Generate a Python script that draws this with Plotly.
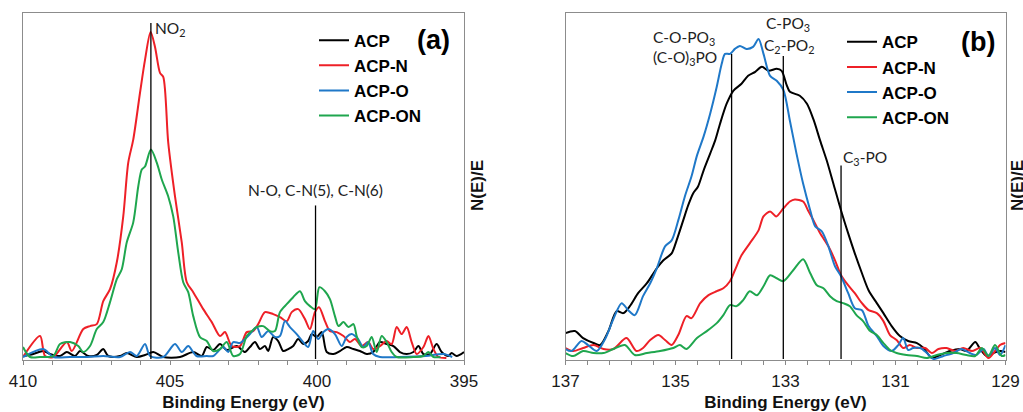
import plotly.graph_objects as go

# ---------------- Panel (a): N 1s region ----------------
a_acp_e = [409.99, 409.65, 409.31, 409.08, 408.74, 408.51, 408.23, 408.06, 407.78, 407.49, 407.27, 407.1,
           406.7, 406.47, 406.13, 405.85, 405.57, 405.23, 404.66, 404.21, 403.92, 403.75, 403.53, 403.3,
           403.07, 402.73, 402.45, 402.28, 402.11, 401.94, 401.77, 401.66, 401.49, 401.32, 401.15, 400.98,
           400.81, 400.64, 400.47, 400.3, 400.18, 400.01, 399.84, 399.67, 399.44, 399.22, 398.99, 398.76,
           398.54, 398.31, 398.09, 397.86, 397.63, 397.4, 397.18, 396.95, 396.72, 396.55, 396.38, 396.16,
           395.93, 395.76, 395.53, 395.42, 395.25, 395.0]
a_acp_v = [3, 5, 8, 5, 3, 7, 3, 8, 3, 4, 10, 3,
           3, 6, 2, 4, 7, 2, 2, 7, 3, 12, 9, 15,
           9, 13, 7, 12, 17, 10, 13, 8, 22, 18, 8, 10,
           13, 20, 15, 18, 25, 22, 27, 7, 5, 8, 12, 10,
           8, 5, 7, 17, 15, 13, 7, 5, 7, 13, 5, 5,
           15, 7, 3, 6, 3, 7]

a_acpn_e = [410.0, 409.42, 409.25, 408.97, 408.51, 408.34, 407.95, 407.72, 407.49, 407.27, 407.04, 406.81,
            406.59, 406.42, 406.25, 406.02, 405.85, 405.66, 405.51, 405.34, 405.23, 405.06, 404.83, 404.6,
            404.43, 404.21, 403.87, 403.58, 403.3, 403.13, 402.9, 402.62, 402.39, 402.17, 402.0, 401.77,
            401.49, 401.26, 401.03, 400.86, 400.64, 400.41, 400.24, 400.07, 399.93, 399.73, 399.56, 399.33,
            399.1, 398.88, 398.71, 398.48, 398.26, 398.09, 397.86, 397.63, 397.46, 397.29, 397.12, 396.95,
            396.78, 396.61, 396.38, 396.21, 396.04, 395.87, 395.6]
a_acpn_v = [2, 23, 3, 2, 17, 8, 30, 33, 35, 58, 70, 97,
            143, 197, 220, 267, 300, 328, 313, 287, 283, 217, 163, 117,
            77, 67, 50, 37, 23, 27, 13, 13, 27, 28, 35, 47,
            45, 42, 38, 47, 50, 40, 30, 47, 52, 38, 28, 27,
            23, 17, 20, 13, 17, 10, 13, 18, 15, 32, 25, 32,
            17, 5, 12, 23, 10, 2, 1]

a_acpo_e = [410.0, 409.31, 408.97, 408.4, 407.8, 407.27, 406.7, 406.36, 406.13, 405.85, 405.68, 405.23,
            404.83, 404.6, 404.38, 404.1, 403.75, 403.53, 403.19, 403.02, 402.85, 402.62, 402.45, 402.28,
            402.05, 401.88, 401.66, 401.43, 401.26, 401.09, 400.92, 400.69, 400.47, 400.3, 400.13, 399.96,
            399.78, 399.61, 399.39, 399.16, 398.99, 398.82, 398.6, 398.43, 398.26, 398.09, 397.86, 397.2,
            396.3, 395.7, 395.4]
a_acpo_v = [2, 10, 2, 2, 2, 3, 2, 7, 3, 15, 3, 2,
            15, 7, 13, 3, 3, 3, 12, 7, 17, 16, 20, 25,
            32, 22, 28, 22, 23, 38, 32, 25, 17, 12, 28, 20,
            27, 30, 25, 13, 22, 25, 20, 12, 17, 5, 2, 2,
            3, 5, 2]

a_acpon_e = [410.0, 409.76, 409.42, 408.97, 408.74, 408.4, 408.12, 407.95, 407.72, 407.49, 407.27, 407.04,
             406.81, 406.64, 406.47, 406.25, 406.08, 405.96, 405.85, 405.65, 405.45, 405.28, 405.06, 404.89,
             404.72, 404.55, 404.38, 404.21, 403.98, 403.75, 403.53, 403.3, 403.07, 402.85, 402.62, 402.39,
             402.22, 402.05, 401.83, 401.6, 401.43, 401.26, 401.03, 400.81, 400.58, 400.41, 400.24, 400.07,
             399.92, 399.73, 399.56, 399.39, 399.27, 399.1, 398.93, 398.76, 398.65, 398.48, 398.31, 398.14,
             397.97, 397.8, 397.63, 397.46, 397.29, 396.72, 396.38, 396.21, 396.04, 395.8]
a_acpon_v = [12, 2, 2, 3, 15, 17, 13, 7, 13, 30, 37, 57,
             80, 90, 117, 137, 173, 190, 193, 210, 197, 180, 163, 143,
             107, 77, 67, 43, 22, 18, 8, 10, 17, 3, 5, 23,
             28, 32, 33, 28, 28, 47, 55, 62, 68, 58, 53, 50,
             72, 68, 60, 43, 33, 37, 32, 35, 23, 12, 13, 22,
             7, 23, 17, 7, 2, 2, 3, 7, 2, 2]

a_marks_e = [405.65, 400.05]
a_marks_top = [337, 154]

# ---------------- Panel (b): P 2p region ----------------
b_acp_e = [137.0, 136.83, 136.68, 136.49, 136.37, 136.22, 136.07, 135.95, 135.83, 135.68, 135.52, 135.34,
           135.22, 135.07, 134.98, 134.86, 134.77, 134.68, 134.59, 134.49, 134.37, 134.28, 134.19, 134.07,
           133.95, 133.8, 133.68, 133.55, 133.43, 133.31, 133.16, 133.07, 132.98, 132.92, 132.74, 132.61,
           132.49, 132.37, 132.25, 132.13, 131.99, 131.86, 131.74, 131.61, 131.49, 131.34, 131.22, 131.07,
           130.92, 130.77, 130.61, 130.49, 130.34, 130.19, 130.01, 129.83, 129.71, 129.55, 129.46, 129.34,
           129.22, 129.1, 129.0]
b_acp_v = [26, 28, 21, 16, 14, 28, 48, 46, 53, 66, 76, 91,
           99, 106, 119, 139, 154, 166, 173, 189, 206, 219, 236, 256,
           269, 276, 284, 288, 293, 289, 291, 289, 275, 268, 264, 256,
           240, 219, 199, 176, 149, 126, 106, 86, 69, 56, 46, 33,
           23, 18, 16, 11, 1, 4, 8, 10, 8, 17, 10, 3,
           6, 8, 7]

b_acpn_e = [137.0, 136.86, 136.68, 136.49, 136.31, 136.13, 135.89, 135.71, 135.59, 135.46, 135.31, 135.19,
            135.07, 134.95, 134.8, 134.71, 134.55, 134.4, 134.25, 134.13, 134.01, 133.92, 133.8, 133.65,
            133.49, 133.4, 133.28, 133.17, 133.04, 132.92, 132.83, 132.68, 132.59, 132.49, 132.37, 132.22,
            132.1, 131.99, 131.89, 131.74, 131.61, 131.49, 131.34, 131.22, 131.1, 130.98, 130.86, 130.74,
            130.61, 130.46, 130.34, 130.22, 130.07, 129.92, 129.77, 129.61, 129.46, 129.31, 129.19, 129.1,
            129.0]
b_acpn_v = [11, 8, 11, 14, 10, 10, 21, 8, 11, 19, 24, 19,
            14, 24, 43, 41, 56, 64, 68, 71, 78, 89, 104, 116,
            129, 143, 148, 143, 151, 158, 160, 158, 149, 139, 126, 113,
            99, 84, 76, 66, 56, 49, 46, 38, 24, 19, 11, 14,
            11, 11, 6, 10, 11, 8, 11, 8, 11, 1, 8, 14,
            16]

b_acpo_e = [137.0, 136.89, 136.71, 136.59, 136.43, 136.28, 136.13, 135.98, 135.86, 135.74, 135.59, 135.46,
            135.34, 135.19, 135.07, 134.95, 134.83, 134.71, 134.61, 134.49, 134.37, 134.25, 134.16, 134.1,
            134.01, 133.92, 133.83, 133.71, 133.59, 133.49, 133.4, 133.28, 133.16, 133.04, 132.92, 132.8,
            132.68, 132.55, 132.46, 132.34, 132.22, 132.1, 131.99, 131.86, 131.74, 131.61, 131.49, 131.34,
            131.22, 131.07, 130.95, 130.86, 130.77, 130.68, 130.55, 130.43, 130.31, 130.13, 129.95, 129.8,
            129.65, 129.53, 129.4, 129.31, 129.19, 129.1, 129.0]
b_acpo_v = [10, 8, 18, 14, 8, 20, 40, 56, 49, 44, 63, 76,
            91, 113, 119, 139, 163, 183, 204, 223, 246, 273, 296, 306,
            306, 311, 314, 311, 313, 321, 306, 284, 279, 270, 239, 206,
            176, 149, 133, 128, 113, 93, 83, 66, 51, 49, 33, 23,
            13, 8, 14, 21, 9, 11, 11, 6, 0, 3, 6, 10,
            6, 4, 10, 3, 11, 4, 14]

b_acpon_e = [137.0, 136.86, 136.68, 136.49, 136.31, 136.13, 135.92, 135.74, 135.52, 135.28, 135.04, 134.92,
             134.8, 134.61, 134.43, 134.25, 134.13, 134.01, 133.89, 133.77, 133.65, 133.52, 133.4, 133.28,
             133.16, 133.04, 132.86, 132.68, 132.55, 132.43, 132.31, 132.19, 132.07, 131.95, 131.83, 131.71,
             131.59, 131.46, 131.34, 131.22, 131.1, 130.98, 130.8, 130.61, 130.43, 130.25, 130.07, 129.89,
             129.71, 129.55, 129.43, 129.31, 129.19, 129.07, 129.0]
b_acpon_v = [6, 3, 8, 6, 6, 10, 14, 4, 6, 8, 11, 14,
             10, 21, 28, 36, 44, 54, 53, 59, 68, 64, 73, 84,
             81, 78, 89, 100, 86, 74, 71, 63, 58, 56, 53, 44,
             38, 28, 24, 16, 9, 6, 4, 3, 1, 4, 6, 6,
             4, 3, 11, 3, 14, 3, 4]

b_marks_e = [133.98, 133.04, 131.99]
b_marks_top = [306, 304, 194]

series_names = ["ACP", "ACP-N", "ACP-O", "ACP-ON"]
series_colors = ["#000000", "#ee2027", "#1f78c8", "#1fa64e"]

a_series = [(a_acp_e, a_acp_v), (a_acpn_e, a_acpn_v), (a_acpo_e, a_acpo_v), (a_acpon_e, a_acpon_v)]
b_series = [(b_acp_e, b_acp_v), (b_acpn_e, b_acpn_v), (b_acpo_e, b_acpo_v), (b_acpon_e, b_acpon_v)]

FIG_W, FIG_H = 1023, 412
PLOT_TOP, PLOT_BOT = 13, 360
PLOT_H = PLOT_BOT - PLOT_TOP


def px(x):
    return x / FIG_W


def py(y):
    return (PLOT_BOT - y) / PLOT_H


fig = go.Figure()

for (e, v), name, col in zip(a_series, series_names, series_colors):
    fig.add_trace(go.Scatter(x=e, y=v, name=name, mode="lines",
                             line=dict(color=col, width=2, shape="spline", smoothing=0.8),
                             xaxis="x", yaxis="y", legend="legend"))
for (e, v), name, col in zip(b_series, series_names, series_colors):
    fig.add_trace(go.Scatter(x=e, y=v, name=name, mode="lines",
                             line=dict(color=col, width=2, shape="spline", smoothing=0.8),
                             xaxis="x2", yaxis="y2", legend="legend2"))

# vertical assignment lines
for e, top in zip(a_marks_e, a_marks_top):
    fig.add_shape(type="line", xref="x", yref="y", x0=e, x1=e, y0=0, y1=top,
                  line=dict(color="black", width=1.3))
for e, top in zip(b_marks_e, b_marks_top):
    fig.add_shape(type="line", xref="x2", yref="y2", x0=e, x1=e, y0=0, y1=top,
                  line=dict(color="black", width=1.3))

tick_font = dict(family="Liberation Sans, Arial, sans-serif", size=17, color="#1a1a1a")
title_font = dict(family="Liberation Sans, Arial, sans-serif", size=17, color="#111111", weight="bold")
lab_font = dict(family="Lato, Calibri, sans-serif", size=15.5, color="#222222")
leg_font = dict(family="Liberation Sans, Arial, sans-serif", size=17, color="black", weight="bold")


def xax(domain, rng, tickvals, minor_dtick, minor_tick0, anchor):
    return dict(domain=domain, range=rng, anchor=anchor, tickmode="array", tickvals=tickvals,
                ticks="outside", ticklen=4, tickcolor="#888888", tickwidth=1,
                minor=dict(dtick=minor_dtick, tick0=minor_tick0, ticks="outside", ticklen=4,
                           tickcolor="#888888", tickwidth=1, showgrid=False),
                showgrid=False, zeroline=False, showline=True, mirror=True,
                linecolor="#8c8c8c", linewidth=1, tickfont=tick_font,
                ticklabelstandoff=2,
                title=dict(text="Binding Energy (eV)", font=title_font, standoff=8),
                automargin=False)


def yax(anchor):
    return dict(domain=[0, 1], range=[-1, 347], anchor=anchor, showticklabels=False, ticks="",
                showgrid=False, zeroline=False, showline=True, mirror=True,
                linecolor="#8c8c8c", linewidth=1, automargin=False)


fig.update_layout(
    width=FIG_W, height=FIG_H,
    margin=dict(l=0, r=0, t=PLOT_TOP, b=FIG_H - PLOT_BOT, pad=0),
    paper_bgcolor="white", plot_bgcolor="white",
    xaxis=xax([px(23), px(464)], [410, 395], [410, 405, 400, 395], 1, 395, "y"),
    yaxis=yax("x"),
    xaxis2=xax([px(565.5), px(1005.5)], [137, 129], [137, 135, 133, 131, 129], 0.4, 129, "y2"),
    yaxis2=yax("x2"),
    legend=dict(x=px(356 - 42), y=py(40.7 - 18), xanchor="left", yanchor="top",
                bgcolor="rgba(0,0,0,0)", borderwidth=0, font=leg_font),
    legend2=dict(x=px(884 - 42), y=py(42.3 - 18), xanchor="left", yanchor="top",
                 bgcolor="rgba(0,0,0,0)", borderwidth=0, font=leg_font),
    showlegend=True,
)

letter_font = dict(family="Liberation Sans, Arial, sans-serif", size=27, color="black", weight="bold")
ann = []
# panel letters
ann.append(dict(text="(a)", xref="paper", yref="paper", x=px(433.5), y=py(40),
                showarrow=False, xanchor="center", yanchor="middle", font=letter_font))
ann.append(dict(text="(b)", xref="paper", yref="paper", x=px(978), y=py(42),
                showarrow=False, xanchor="center", yanchor="middle", font=letter_font))
# intensity titles on the right of each panel
ann.append(dict(text="N(E)/E", xref="paper", yref="paper", x=px(477), y=py(186),
                showarrow=False, textangle=-90, xanchor="center", yanchor="middle", font=title_font))
ann.append(dict(text="N(E)/E", xref="paper", yref="paper", x=px(1017), y=py(186),
                showarrow=False, textangle=-90, xanchor="center", yanchor="middle", font=title_font))
# peak assignment labels
ann.append(dict(text="NO<sub>2</sub>", xref="x", yref="y", x=a_marks_e[0], y=331, xanchor="left",
                yanchor="middle", showarrow=False, font=lab_font, xshift=2))
ann.append(dict(text="N-O, C-N(5), C-N(6)", xref="x", yref="y", x=a_marks_e[1], y=169, xanchor="center",
                yanchor="middle", showarrow=False, font=lab_font))
ann.append(dict(text="C-O-PO<sub>3</sub>", xref="x2", yref="y2", x=134.85, y=322, xanchor="center",
                yanchor="middle", showarrow=False, font=lab_font))
ann.append(dict(text="(C-O)<sub>3</sub>PO", xref="x2", yref="y2", x=134.83, y=302, xanchor="center",
                yanchor="middle", showarrow=False, font=lab_font))
ann.append(dict(text="C-PO<sub>3</sub>", xref="x2", yref="y2", x=132.96, y=336, xanchor="center",
                yanchor="middle", showarrow=False, font=lab_font))
ann.append(dict(text="C<sub>2</sub>-PO<sub>2</sub>", xref="x2", yref="y2", x=132.94, y=314, xanchor="center",
                yanchor="middle", showarrow=False, font=lab_font))
ann.append(dict(text="C<sub>3</sub>-PO", xref="x2", yref="y2", x=b_marks_e[2], y=202, xanchor="left",
                yanchor="middle", showarrow=False, font=lab_font))
fig.update_layout(annotations=ann)

# remove the default 8px page margin so the 1023x412 figure fills the window exactly
fig.write_html("out.html", config={"displayModeBar": False},
               post_script="document.body.style.margin='0';document.body.style.overflow='hidden';")
